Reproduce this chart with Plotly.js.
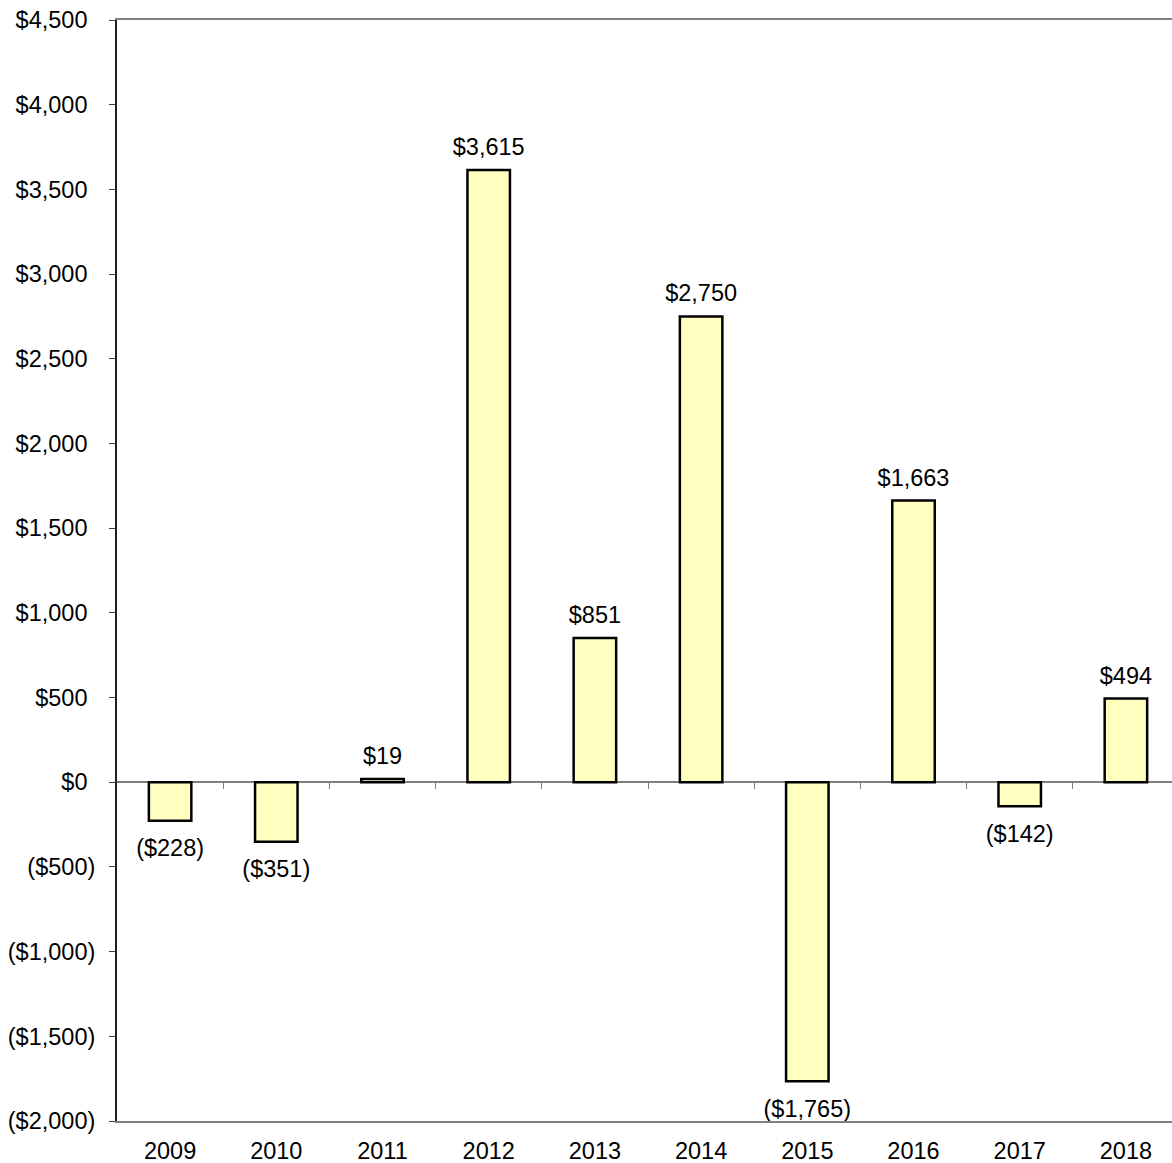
<!DOCTYPE html>
<html>
<head>
<meta charset="utf-8">
<script src="https://cdn.plot.ly/plotly-3.0.1.min.js"></script>
<style>html,body{margin:0;padding:0;background:#fff;}#chart{width:1172px;height:1163px;}</style>
</head>
<body>
<div id="chart"></div>
<script>
var years = ["2009","2010","2011","2012","2013","2014","2015","2016","2017","2018"];
var values = [-228, -351, 19, 3615, 851, 2750, -1765, 1663, -142, 494];
var yTickVals = [-2000, -1500, -1000, -500, 0, 500, 1000, 1500, 2000, 2500, 3000, 3500, 4000, 4500];

function fmt(v) {
  var s = "$" + Math.abs(v).toLocaleString("en-US");
  return v < 0 ? "(" + s + ")" : s;
}
// accounting-style alignment: positives get an invisible ")" so digits line up
function fmtTick(v) {
  var s = fmt(v);
  return v < 0 ? s : s + '<span style="color:rgba(0,0,0,0)">)</span>';
}
var labels = values.map(fmt);
var yTickText = yTickVals.map(fmtTick);
var boundaries = years.slice(1).map(function(_, i){ return i + 0.5; });

var font = {family: "Liberation Sans, Arial, sans-serif", size: 23.5, color: "#000"};
var xRange = [-0.5, 9.434];

var traces = [
  {
    type: "bar",
    x: years,
    y: values,
    marker: {color: "#FFFFC0", line: {color: "#000", width: 2.5}},
    width: 0.4,
    hoverinfo: "skip"
  },
  {
    type: "scatter",
    x: years,
    y: values,
    mode: "markers+text",
    text: labels,
    textposition: values.map(function(v){ return v < 0 ? "bottom center" : "top center"; }),
    textfont: font,
    marker: {opacity: 0, size: values.map(function(v){ return v < 0 ? 27 : 13; })},
    cliponaxis: false,
    hoverinfo: "skip"
  },
  {
    type: "scatter",
    x: [0],
    y: [0],
    xaxis: "x2",
    mode: "markers",
    marker: {opacity: 0},
    hoverinfo: "skip",
    showlegend: false
  }
];

var layout = {
  width: 1172,
  height: 1163,
  margin: {l: 117, r: 0, t: 20, b: 42},
  paper_bgcolor: "#fff",
  plot_bgcolor: "#fff",
  showlegend: false,
  font: font,
  xaxis: {
    type: "category",
    range: xRange,
    showline: true,
    linecolor: "#808080",
    linewidth: 2,
    mirror: true,
    ticks: "",
    showgrid: false,
    zeroline: false,
    tickfont: font,
    ticklabelstandoff: 8
  },
  xaxis2: {
    overlaying: "x",
    anchor: "free",
    position: 2000 / 6500,
    range: xRange,
    showline: false,
    ticks: "outside",
    ticklen: 6,
    tickwidth: 1,
    tickcolor: "#808080",
    tickvals: boundaries,
    showticklabels: false,
    showgrid: false,
    zeroline: false
  },
  yaxis: {
    range: [-2000, 4500],
    tickvals: yTickVals,
    ticktext: yTickText,
    ticks: "outside",
    ticklen: 6,
    tickwidth: 1,
    tickcolor: "#404040",
    showline: true,
    linecolor: "#202020",
    linewidth: 2,
    showgrid: false,
    zeroline: true,
    zerolinecolor: "#808080",
    zerolinewidth: 2,
    tickfont: font,
    ticklabelstandoff: 9
  }
};

Plotly.newPlot("chart", traces, layout, {displayModeBar: false, staticPlot: true});
</script>
</body>
</html>
